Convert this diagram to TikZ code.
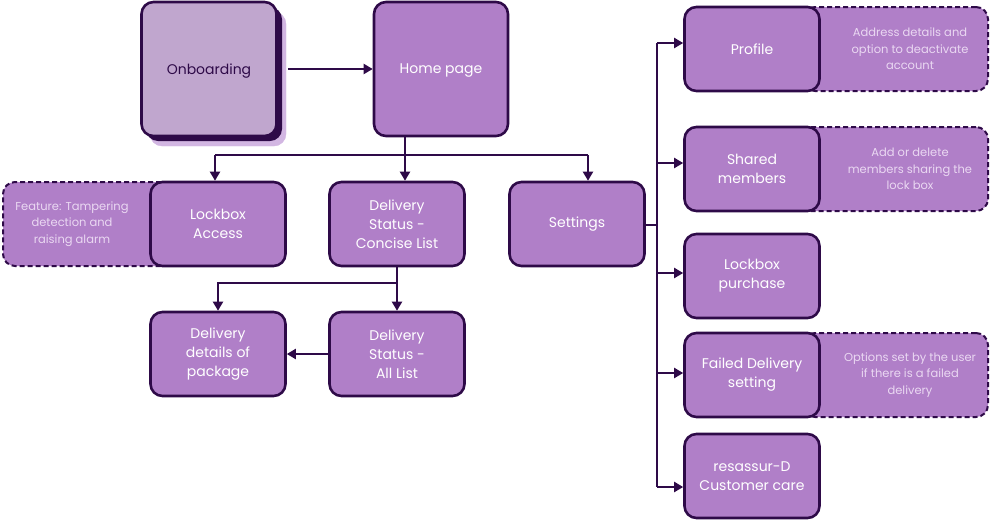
\documentclass[tikz,border=0pt]{standalone}
\usepackage{fontspec}
\setmainfont{Poppins}
\usetikzlibrary{positioning}
\usetikzlibrary{arrows.meta}
\definecolor{boxfill}{HTML}{B07FC8}
\definecolor{boxline}{HTML}{2E0A48}
\definecolor{onbfill}{HTML}{C0A6CE}
\definecolor{shadefill}{HTML}{D2B6E2}
\definecolor{notetext}{HTML}{EAD8F2}
\tikzset{
  screen/.style={draw=boxline,line width=2.6pt,fill=boxfill,rounded corners=12pt,
    minimum width=135pt,minimum height=84pt,text=white,align=center,
    font=\fontsize{14}{19}\selectfont,inner sep=2pt},
  note/.style={draw=boxline,line width=2pt,dashed,dash pattern=on 5pt off 3pt,
    fill=boxfill,rounded corners=12pt,minimum height=84pt,text=notetext,align=center,
    font=\fontsize{11.5}{16.5}\selectfont,inner sep=2pt},
  link/.style={draw=boxline,line width=2pt,-{Triangle[length=9pt,width=10pt]}},
  wire/.style={draw=boxline,line width=2pt}
}
\begin{document}
\begin{tikzpicture}[x=1pt,y=-1pt]
        \useasboundingbox (0,0) rectangle (991,520);

        % notes behind the screens
        \node[note,minimum width=170pt,anchor=west] (noteLock) at (2,224)
          {\hspace*{-10pt}\parbox{150pt}{\centering Feature: Tampering\\detection and\\raising alarm}\hspace*{22pt}};
        \node[note,minimum width=185pt,anchor=east] (noteProfile) at (989,49)
          {\hspace*{29pt}\parbox{150pt}{\centering Address details and\\option to deactivate\\account}};
        \node[note,minimum width=190pt,anchor=east] (noteShared) at (989,169)
          {\hspace*{34pt}\parbox{150pt}{\centering Add or delete\\members sharing the\\lock box}};
        \node[note,minimum width=185pt,anchor=east] (noteFailed) at (989,375)
          {\hspace*{29pt}\parbox{150pt}{\centering Options set by the user\\if there is a failed\\delivery}};

        % onboarding with stacked shadow
        \filldraw[fill=shadefill,draw=shadefill,rounded corners=12pt] (150,12) rectangle (286,146);
        \fill[boxline,rounded corners=12pt] (146,7) rectangle (282,141);
        \node[screen,fill=onbfill,text=boxline,minimum height=134pt,text depth=-2pt] (onb) at (209,69) {Onboarding};
        \node[screen,minimum height=134pt,minimum width=134pt,text depth=-2pt] (home) at (441,69) {Home page};

        \node[screen] (lock) at (218,224) {Lockbox\\Access};
        \node[screen] (concise) at (397,224) {Delivery\\Status -\\Concise List};
        \node[screen] (settings) at (577,224) {Settings};
        \node[screen] (details) at (218,354) {Delivery\\details of\\package};
        \node[screen] (alllist) at (397,354) {Delivery\\Status -\\All List};

        \node[screen] (profile) at (752,49) {Profile};
        \node[screen] (shared) at (752,169) {Shared\\members};
        \node[screen] (purchase) at (752,276) {Lockbox\\purchase};
        \node[screen] (failed) at (752,375) {Failed Delivery\\setting};
        \node[screen] (care) at (752,476) {resassur-D\\Customer care};

        \draw[link] (onb.east) ++(10,0) -- (home.west);

        \coordinate (homeFork) at ([xshift=-36pt]home.south |- 0,155);
        \draw[wire] ([xshift=-36pt]home.south) -- (homeFork);
        \draw[wire] ([xshift=-3pt]lock.north |- homeFork) -- ([xshift=11pt]settings.north |- homeFork);
        \draw[link] ([xshift=-3pt]lock.north |- homeFork) -- ([xshift=-3pt]lock.north);
        \draw[link] (homeFork) -- ([xshift=8pt]concise.north);
        \draw[link] ([xshift=11pt]settings.north |- homeFork) -- ([xshift=11pt]settings.north);

        \coordinate (conciseFork) at (concise.south |- 0,283);
        \draw[wire] (concise.south) -- (conciseFork);
        \draw[link] (conciseFork) -| (details.north);
        \draw[link] (conciseFork) -- (alllist.north);
        \draw[link] (alllist.west) -- (details.east);

        \coordinate (setTrunk) at (657,225);
        \draw[wire] (settings.east |- setTrunk) -- (setTrunk);
        \draw[wire] (setTrunk |- 0,43) -- (setTrunk |- 0,487);
        \draw[link] (setTrunk |- 0,43) -- (profile.west |- 0,43);
        \draw[link] (setTrunk |- 0,163) -- (shared.west |- 0,163);
        \draw[link] (setTrunk |- 0,273) -- (purchase.west |- 0,273);
        \draw[link] (setTrunk |- 0,373) -- (failed.west |- 0,373);
        \draw[link] (setTrunk |- 0,487) -- (care.west |- 0,487);
      \end{tikzpicture}
\end{document}
